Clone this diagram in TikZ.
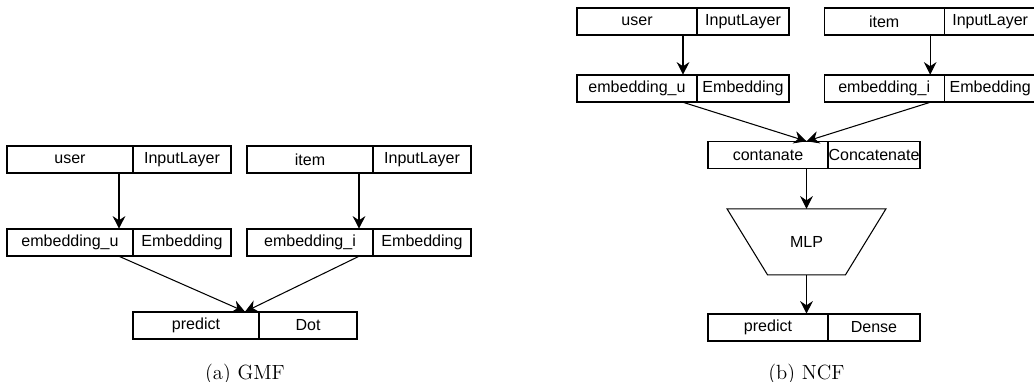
\documentclass[tikz,border=0pt]{standalone}
\usepackage{fontspec}
\newfontfamily\boxfont{Liberation Sans}
\usepackage{tikz}
\usetikzlibrary{shapes.geometric, arrows.meta, positioning, fit}
\tikzstyle{namebox} = [rectangle, draw=black, line width=0.75pt, outer sep=0pt, minimum width=3cm, minimum height=0.675cm, inner xsep=0pt, text centered, font=\boxfont\fontsize{11.4}{13}\selectfont]
\tikzstyle{typebox} = [namebox, minimum width=2.3cm]
\tikzstyle{rowfit} = [inner sep=0pt]
\tikzstyle{mlpbox} = [rectangle, minimum width=3.975cm, minimum height=1.65cm, inner sep=0pt, outer sep=0pt, font=\boxfont\fontsize{11.4}{13}\selectfont]
\tikzstyle{arrow} = [line width=0.75pt,-{Stealth[length=9pt,width=9pt,inset=3pt]}]
\tikzstyle{caption} = [inner sep=0pt, font=\fontsize{14.6}{17}\selectfont]

\begin{document}
\begin{tikzpicture}[node distance=1.4cm]
        \useasboundingbox (0,0) rectangle (25.85,-9.55);

        % (a) GMF
        \node (user) [namebox, minimum width=3.15cm] at (1.75,-3.9875) {user};
        \node (userType) [typebox, minimum width=2.45cm, right=0pt of user] {InputLayer};
        \node (item) [namebox, minimum width=3.15cm, right=0.4cm of userType] {item};
        \node (itemType) [typebox, minimum width=2.45cm, right=0pt of item] {InputLayer};
        \node (embu) [namebox, minimum width=3.15cm, below=of user] {embedding\_u};
        \node (embuType) [typebox, minimum width=2.45cm, right=0pt of embu] {Embedding};
        \node (embi) [namebox, minimum width=3.15cm, below=of item] {embedding\_i};
        \node (embiType) [typebox, minimum width=2.45cm, right=0pt of embi] {Embedding};
        \node (pred) [namebox, minimum width=3.15cm, below right=1.4cm and 0cm of embu.south east] {predict};
        \node (predType) [typebox, minimum width=2.45cm, right=0pt of pred] {Dot};

        \node (userRow) [rowfit, fit=(user)(userType)] {};
        \node (itemRow) [rowfit, fit=(item)(itemType)] {};
        \node (embuRow) [rowfit, fit=(embu)(embuType)] {};
        \node (embiRow) [rowfit, fit=(embi)(embiType)] {};
        \node (predRow) [rowfit, fit=(pred)(predType)] {};

        \draw[arrow] (userRow.south) -- (embuRow.north);
        \draw[arrow] (itemRow.south) -- (embiRow.north);
        \draw[arrow] (embuRow.south) -- (predRow.north);
        \draw[arrow] (embiRow.south) -- (predRow.north);

        \node (capA) [caption, below=0.62cm of predRow] {(a) GMF};

        % (b) NCF
        \node (nuser) [namebox] at (15.925,-0.5375) {user};
        \node (nuserType) [typebox, right=0pt of nuser] {InputLayer};
        \node (nitem) [namebox, right=0.88cm of nuserType] {item};
        \node (nitemType) [typebox, right=0pt of nitem] {InputLayer};
        \node (nembu) [namebox, below=1cm of nuser] {embedding\_u};
        \node (nembuType) [typebox, right=0pt of nembu] {Embedding};
        \node (nembi) [namebox, below=1cm of nitem] {embedding\_i};
        \node (nembiType) [typebox, right=0pt of nembi] {Embedding};
        \node (ncat) [namebox] at (19.2,-3.875) {contanate};
        \node (ncatType) [typebox, right=0pt of ncat] {Concatenate};

        \node (nuserRow) [rowfit, fit=(nuser)(nuserType)] {};
        \node (nitemRow) [rowfit, fit=(nitem)(nitemType)] {};
        \node (nembuRow) [rowfit, fit=(nembu)(nembuType)] {};
        \node (nembiRow) [rowfit, fit=(nembi)(nembiType)] {};
        \node (ncatRow) [rowfit, fit=(ncat)(ncatType)] {};

        \node (mlp) [mlpbox, below=1cm of ncatRow, xshift=-0.1875cm] {MLP};
        \draw[line width=0.75pt] (mlp.north west) -- (mlp.north east)
            -- ([xshift=-1.0125cm]mlp.south east) -- ([xshift=1.0125cm]mlp.south west) -- cycle;
        \node (npred) [namebox] at (19.2,-8.1875) {predict};
        \node (npredType) [typebox, right=0pt of npred] {Dense};
        \node (npredRow) [rowfit, fit=(npred)(npredType)] {};

        \draw[arrow] (nuserRow.south) -- (nembuRow.north);
        \draw[arrow] (nitemRow.south) -- (nembiRow.north);
        \draw[arrow] (nembuRow.south) -- (mlp.north |- ncatRow.north);
        \draw[arrow] (nembiRow.south) -- (mlp.north |- ncatRow.north);
        \draw[arrow] (ncatRow.south -| mlp.north) -- (mlp.north);
        \draw[arrow] (mlp.south) -- (mlp.south |- npredRow.north);

        \node (capB) [caption, below=0.57cm of npredRow, xshift=-0.1875cm] {(b) NCF};
\end{tikzpicture}
\end{document}
